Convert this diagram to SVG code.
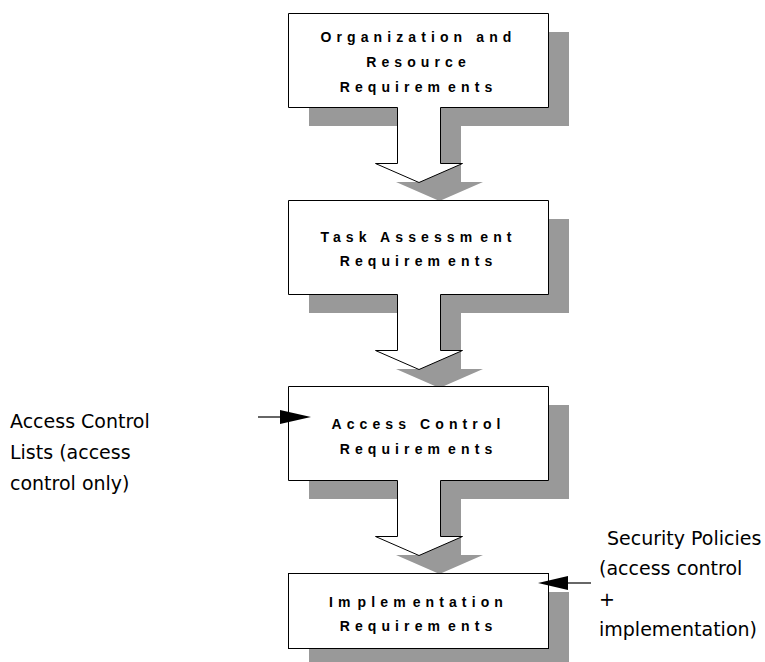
<svg xmlns="http://www.w3.org/2000/svg" width="765" height="662" viewBox="0 0 765 662">
  <style>
    .shadow { fill: #999999; stroke: none; }
    .shape { fill: #ffffff; stroke: #000000; stroke-width: 1; stroke-linejoin: miter; }
    .label { font-family: "Liberation Sans", Arial, sans-serif; font-weight: bold; font-size: 14px; letter-spacing: 5.1px; text-anchor: middle; fill: #000000; }
    .note { font-family: "DejaVu Sans", Verdana, sans-serif; font-size: 19px; fill: #000000; }
    .lead { stroke: #000000; stroke-width: 1.2; fill: none; }
    .head { fill: #000000; stroke: none; }
  </style>
  <defs>
    <!-- box with a downward block arrow hanging from its bottom edge -->
    <path id="boxArrow" d="M288,0 H548 V94 H440 V150 H462 L418.5,169 L375,150 H397 V94 H288 Z"/>
  </defs>
  <rect x="0" y="0" width="765" height="662" fill="#ffffff"/>

  <g id="node-organization">
    <use href="#boxArrow" class="shadow" transform="translate(21,32)"/>
    <use href="#boxArrow" class="shape" transform="translate(0.5,13.5)"/>
    <text class="label" x="418.5" y="41.5">Organization and</text>
    <text class="label" x="418.5" y="66.5">Resource</text>
    <text class="label" x="418.5" y="91.5">Requirem<tspan dx="-6"> </tspan>ents</text>
  </g>

  <g id="node-task">
    <use href="#boxArrow" class="shadow" transform="translate(21,219)"/>
    <use href="#boxArrow" class="shape" transform="translate(0.5,200.5)"/>
    <text class="label" x="418.5" y="241.5">Task Assessm<tspan dx="-6"> </tspan>ent</text>
    <text class="label" x="418.5" y="266">Requirem<tspan dx="-6"> </tspan>ents</text>
  </g>

  <g id="node-access">
    <use href="#boxArrow" class="shadow" transform="translate(21,405)"/>
    <use href="#boxArrow" class="shape" transform="translate(0.5,386.5)"/>
    <text class="label" x="418.5" y="428.5">Access Control</text>
    <text class="label" x="418.5" y="453.5">Requirem<tspan dx="-6"> </tspan>ents</text>
  </g>

  <g id="node-implementation">
    <rect class="shadow" x="309" y="592" width="260" height="75"/>
    <rect class="shape" x="288.5" y="573.5" width="260" height="75"/>
    <text class="label" x="418.5" y="606.5">Im<tspan dx="-7"> </tspan>plem<tspan dx="-7"> </tspan>entation</text>
    <text class="label" x="418.5" y="630.5">Requirem<tspan dx="-6"> </tspan>ents</text>
  </g>

  <g id="node-acl-note">
    <text class="note" x="10" y="428">Access Control</text>
    <text class="note" x="10" y="459">Lists (access</text>
    <text class="note" x="10" y="490">control only)</text>
  </g>

  <g id="node-policy-note">
    <text class="note" x="607" y="545">Security Policies</text>
    <text class="note" x="599" y="575">(access control</text>
    <text class="note" x="599" y="606">+</text>
    <text class="note" x="599" y="636">implementation)</text>
  </g>

  <g id="connectors">
    <line class="lead" x1="258" y1="417" x2="282" y2="417"/>
    <polygon class="head" points="280,410 311,417 280,424"/>
    <line class="lead" x1="566" y1="583" x2="591" y2="583"/>
    <polygon class="head" points="568,576 538,583 568,590"/>
  </g>
</svg>
